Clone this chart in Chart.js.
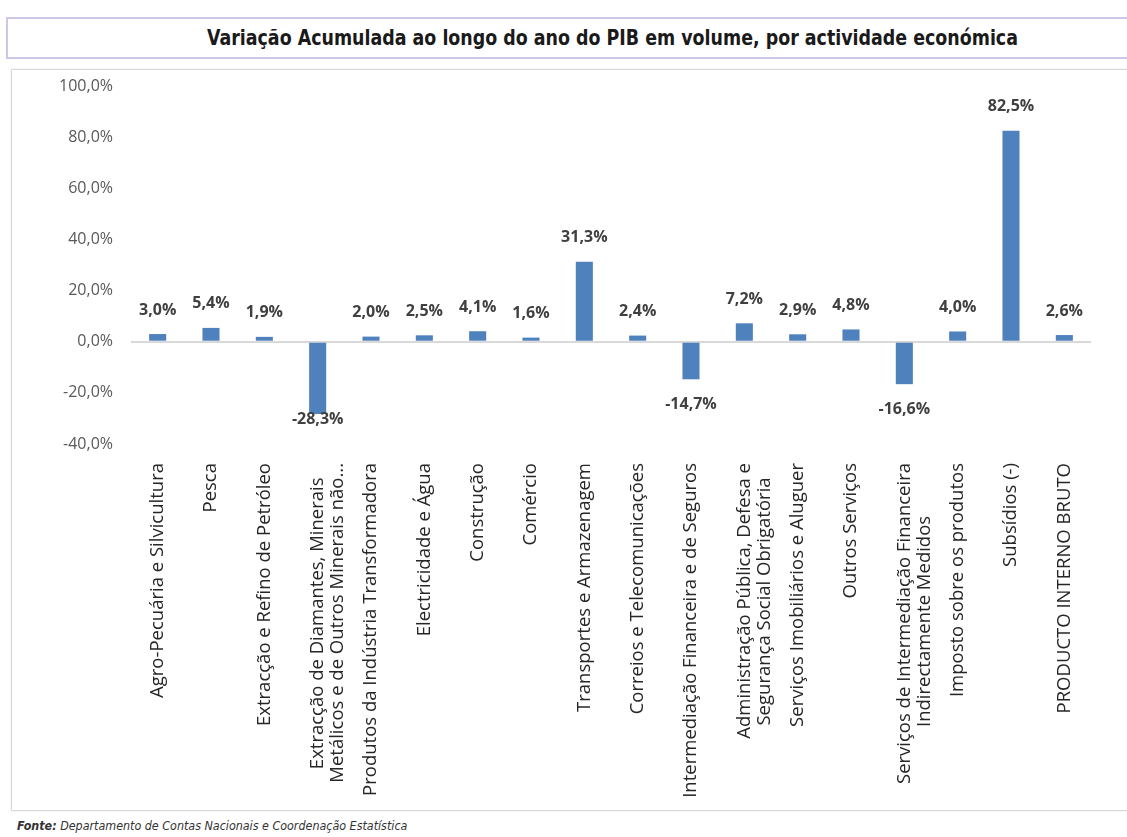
<!DOCTYPE html>
<html>
<head>
<meta charset="utf-8">
<script src="https://cdn.jsdelivr.net/npm/chart.js@4"></script>
<style>
  body { margin: 0; background: #fff; width: 1127px; height: 837px; position: relative; overflow: hidden; }
  #titleBox {
    position: absolute; left: 6px; top: 17px; width: 1130px; height: 42px;
    border: 2px solid #cdc8e8; box-sizing: border-box;
  }
  #titleText {
    position: absolute; left: 199px; top: 0; white-space: nowrap;
    font-family: "DejaVu Sans Condensed", "DejaVu Sans", sans-serif;
    font-weight: bold; font-size: 22px; color: #1a1a1a; line-height: 38px;
    transform: scaleX(0.881); transform-origin: 0 50%;
  }
  #chartBox {
    position: absolute; left: 11px; top: 69px; width: 1130px; height: 742px;
    border: 1px solid #d9d9d9; box-shadow: 0 0 2px #e6e6e6; box-sizing: border-box;
  }
  #chartBox canvas { position: absolute; left: 0; top: 0; }
  #fonte {
    position: absolute; left: 17px; top: 818px;
    font-family: "DejaVu Sans Condensed", "DejaVu Sans", sans-serif;
    font-style: italic; font-size: 12.4px; color: #333;
  }
</style>
</head>
<body>
<div id="titleBox"><span id="titleText">Variação Acumulada ao longo do ano do PIB em volume, por actividade económica</span></div>
<div id="chartBox"><canvas id="js-pibChart" width="1116" height="740"></canvas></div>
<div id="fonte"><b>Fonte:</b> Departamento de Contas Nacionais e Coordenação Estatística</div>
<script>
const categorias = [
    ["Agro-Pecuária e Silvicultura"],
    ["Pesca"],
    ["Extracção e Refino de Petróleo"],
    ["Extracção de Diamantes, Minerais", "Metálicos e de Outros Minerais não..."],
    ["Produtos da Indústria Transformadora"],
    ["Electricidade e Água"],
    ["Construção"],
    ["Comércio"],
    ["Transportes e Armazenagem"],
    ["Correios e Telecomunicações"],
    ["Intermediação Financeira e de Seguros"],
    ["Administração Pública, Defesa e", "Segurança Social Obrigatória"],
    ["Serviços Imobiliários e Aluguer"],
    ["Outros Serviços"],
    ["Serviços de Intermediação Financeira", "Indirectamente Medidos"],
    ["Imposto sobre os produtos"],
    ["Subsídios (-)"],
    ["PRODUCTO INTERNO BRUTO"]
];
const variacao = [3.0, 5.4, 1.9, -28.3, 2.0, 2.5, 4.1, 1.6, 31.3, 2.4, -14.7, 7.2, 2.9, 4.8, -16.6, 4.0, 82.5, 2.6];
const yMin = -40;
const yMax = 100;
const yStep = 20;

const fmt = (v) => v.toFixed(1).replace(".", ",") + "%";

const catSize = 18.5;
const measureCtx = document.createElement("canvas").getContext("2d");
measureCtx.font = catSize + "px 'Open Sans', sans-serif";

// pad shorter lines so multi-line labels look centred after rotation
function centreLines(lines) {
    if (lines.length < 2) return lines[0];
    var widths = lines.map((l) => measureCtx.measureText(l).width);
    var maxW = Math.max(...widths);
    var space = measureCtx.measureText(" ").width;
    return lines.map((l, i) => {
        var n = Math.round((maxW - widths[i]) / 2 / space);
        return l + " ".repeat(n);
    });
}

const valueLabels = {
    id: "valueLabels",
    afterDatasetsDraw(chart) {
        const ctx = chart.ctx;
        const meta = chart.getDatasetMeta(0);
        const area = chart.chartArea;
        ctx.save();
        ctx.font = "bold 16px 'Open Sans', sans-serif";
        ctx.fillStyle = "#404040";
        ctx.textAlign = "center";
        ctx.textBaseline = "middle";
        meta.data.forEach((bar, i) => {
            var v = variacao[i];
            var y;
            if (v >= 0) {
                y = bar.y - 24;
            } else {
                y = Math.min(bar.y + 25, area.bottom - 25);
            }
            ctx.fillText(fmt(v), bar.x, y);
        });
        ctx.restore();
    }
};

document.fonts.load(catSize + "px 'Open Sans'").then(() => {
    measureCtx.font = catSize + "px 'Open Sans', sans-serif";
    const ctx = document.getElementById("js-pibChart");
    new Chart(ctx, {
        type: "bar",
        data: {
            labels: categorias.map(centreLines),
            datasets: [{
                data: variacao,
                backgroundColor: "#4f81bd",
                borderWidth: 0,
                barPercentage: 0.4,
                categoryPercentage: 0.8
            }]
        },
        options: {
            responsive: false,
            animation: false,
            layout: { padding: { top: 16, right: 37, bottom: 0, left: 0 } },
            plugins: {
                legend: { display: false },
                tooltip: { enabled: false }
            },
            scales: {
                x: {
                    grid: { display: false, drawTicks: false },
                    border: { display: false },
                    ticks: {
                        autoSkip: false,
                        minRotation: 90,
                        maxRotation: 90,
                        padding: 19,
                        color: "#262626",
                        font: { family: "'Open Sans', sans-serif", size: catSize, lineHeight: 1.1 }
                    },
                    afterFit: function(scale) { scale.height = 366; }
                },
                y: {
                    min: yMin,
                    max: yMax,
                    grid: {
                        drawTicks: false,
                        color: (c) => c.tick && c.tick.value === 0 ? "#d9d9d9" : "rgba(0,0,0,0)",
                        lineWidth: 2
                    },
                    border: { display: false },
                    ticks: {
                        stepSize: yStep,
                        padding: 18,
                        color: "#595959",
                        font: { family: "'Open Sans', sans-serif", size: 16 },
                        callback: function(value) { return fmt(value); }
                    },
                    afterFit: function(scale) {
                        scale.width = 119;
                        scale.paddingTop = 0;
                        scale.paddingBottom = 0;
                    }
                }
            }
        },
        plugins: [valueLabels]
    });
});
</script>
</body>
</html>
